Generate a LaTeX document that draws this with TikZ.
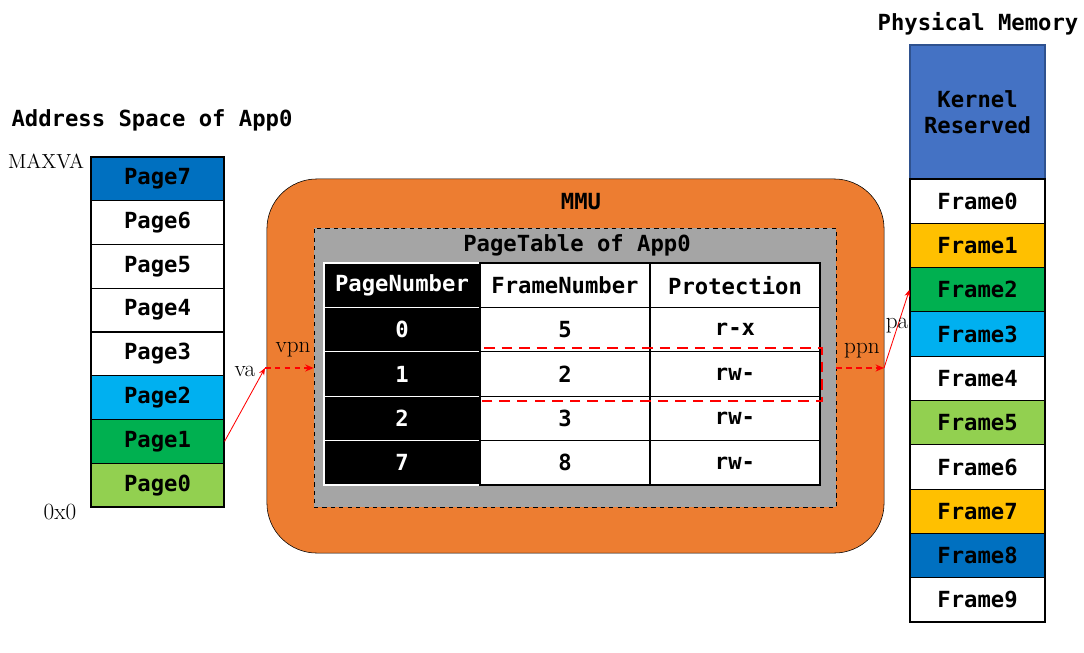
\documentclass[tikz,border=0pt]{standalone}
\usepackage{fontspec}
\newfontfamily\codefont{DejaVu Sans Mono}
\usepackage{xcolor}
\usepackage{tikz}
\usetikzlibrary{positioning, arrows.meta}

\definecolor{pgdark}{HTML}{0070C0}
\definecolor{pglight}{HTML}{00B0F0}
\definecolor{pggreen}{HTML}{00B050}
\definecolor{pglime}{HTML}{92D050}
\definecolor{pggold}{HTML}{FFC000}
\definecolor{kernblue}{HTML}{4472C4}
\definecolor{kernedge}{HTML}{2F528F}
\definecolor{mmuorange}{HTML}{ED7D31}
\definecolor{ptgray}{HTML}{A5A5A5}

\begin{document}
\begin{tikzpicture}[x=0.025cm, y=-0.025cm,
    code/.style={font=\fontsize{15.8}{18.5}\selectfont\codefont\bfseries},
    serif/.style={font=\fontsize{16.5}{18}\selectfont},
    page/.style={draw, code, line width=0.8pt, inner sep=0pt, minimum width=3.325cm, minimum height=1.094cm},
    frame/.style={draw, code, line width=0.8pt, inner sep=0pt, minimum width=3.375cm, minimum height=1.1075cm},
    tcell/.style={draw, code, line width=0.8pt, inner sep=0pt, minimum width=4.25cm, minimum height=1.11cm, fill=white},
    kcell/.style={tcell, minimum width=3.9cm, fill=black, draw=white, text=white},
    thinarr/.style={red, line width=0.6pt, -{Stealth[length=5pt, width=4pt]}},
    dasharr/.style={red, line width=1.3pt, dash pattern=on 4pt off 3pt, -{Stealth[length=6pt, width=5pt]}},
    hilite/.style={red, line width=2pt, dash pattern=on 7.5pt off 5pt}]
  \useasboundingbox (0,0) rectangle (1084,652);

  % Address space
  \node[code] (astitle) at (152,120) {Address Space of App0};
  \foreach \i/\c in {7/pgdark, 6/white, 5/white, 4/white, 3/white, 2/pglight, 1/pggreen, 0/pglime}
    \node[page, fill=\c] (p\i) at (157.5, {157+43.75*(7-\i)+21.875}) {Page\i};
  \node[serif, font=\fontsize{14.5}{16}\selectfont, anchor=east] (maxva) at (89,161) {MAXVA};
  \node[serif] (zero) at (60,512) {0x0};

  % MMU
  \node[draw, fill=mmuorange, rounded corners=1.25cm, minimum width=15.425cm, minimum height=9.35cm] (mmu) at (575.5,366) {};
  \node[code] (mmulbl) at (581,202) {MMU};
  \node[draw, dashed, fill=ptgray, minimum width=13.05cm, minimum height=6.975cm] (pt) at (575,367.5) {};
  \node[code] (ptlbl) at (577,245) {PageTable of App0};

  % Table
  \node[kcell] (pn0) at (402,285.2) {PageNumber};
  \node[tcell] (fn0) at (565,285.2) {FrameNumber};
  \node[tcell] (pr0) at (735,285.2) {Protection};
  \foreach \r/\pn/\fn/\pr in {1/0/5/r-x, 2/1/2/rw-, 3/2/3/rw-, 4/7/8/rw-}{
    \node[kcell] (pn\r) at (402, {263+44.4*\r+22.2}) {\pn};
    \node[tcell] (fn\r) at (565, {263+44.4*\r+22.2}) {\fn};
    \node[tcell] (pr\r) at (735, {263+44.4*\r+22.2}) {\pr};
  }
  \draw[hilite] (484,348) -- (822,348) -- (822,401) -- (481,401);

  % Physical memory
  \node[code] (pmtitle) at (978,24) {Physical Memory};
  \node[draw=kernedge, fill=kernblue, code, align=center, line width=0.8pt, minimum width=3.375cm, minimum height=3.35cm] (kern) at (977.5,112) {Kernel\\Reserved};
  \foreach \i/\c in {0/white, 1/pggold, 2/pggreen, 3/pglight, 4/white, 5/pglime, 6/white, 7/pggold, 8/pgdark, 9/white}
    \node[frame, fill=\c] (f\i) at (977.5, {179+44.3*\i+22.15}) {Frame\i};

  % Translation path
  \coordinate (va) at (265,368);
  \coordinate (pa) at (884,368);
  \draw[thinarr] (p1.east) -- (va);
  \draw[dasharr] (va) -- (va -| pt.west);
  \draw[dasharr] (pa -| pt.east) -- (pa);
  \draw[thinarr] (pa) -- (f2.west);

  \node[serif] (valbl) at (245,371) {va};
  \node[serif] (vpnlbl) at (293,350) {vpn};
  \node[serif] (ppnlbl) at (862,351) {ppn};
  \node[serif] (palbl) at (897,326) {pa};
\end{tikzpicture}
\end{document}
